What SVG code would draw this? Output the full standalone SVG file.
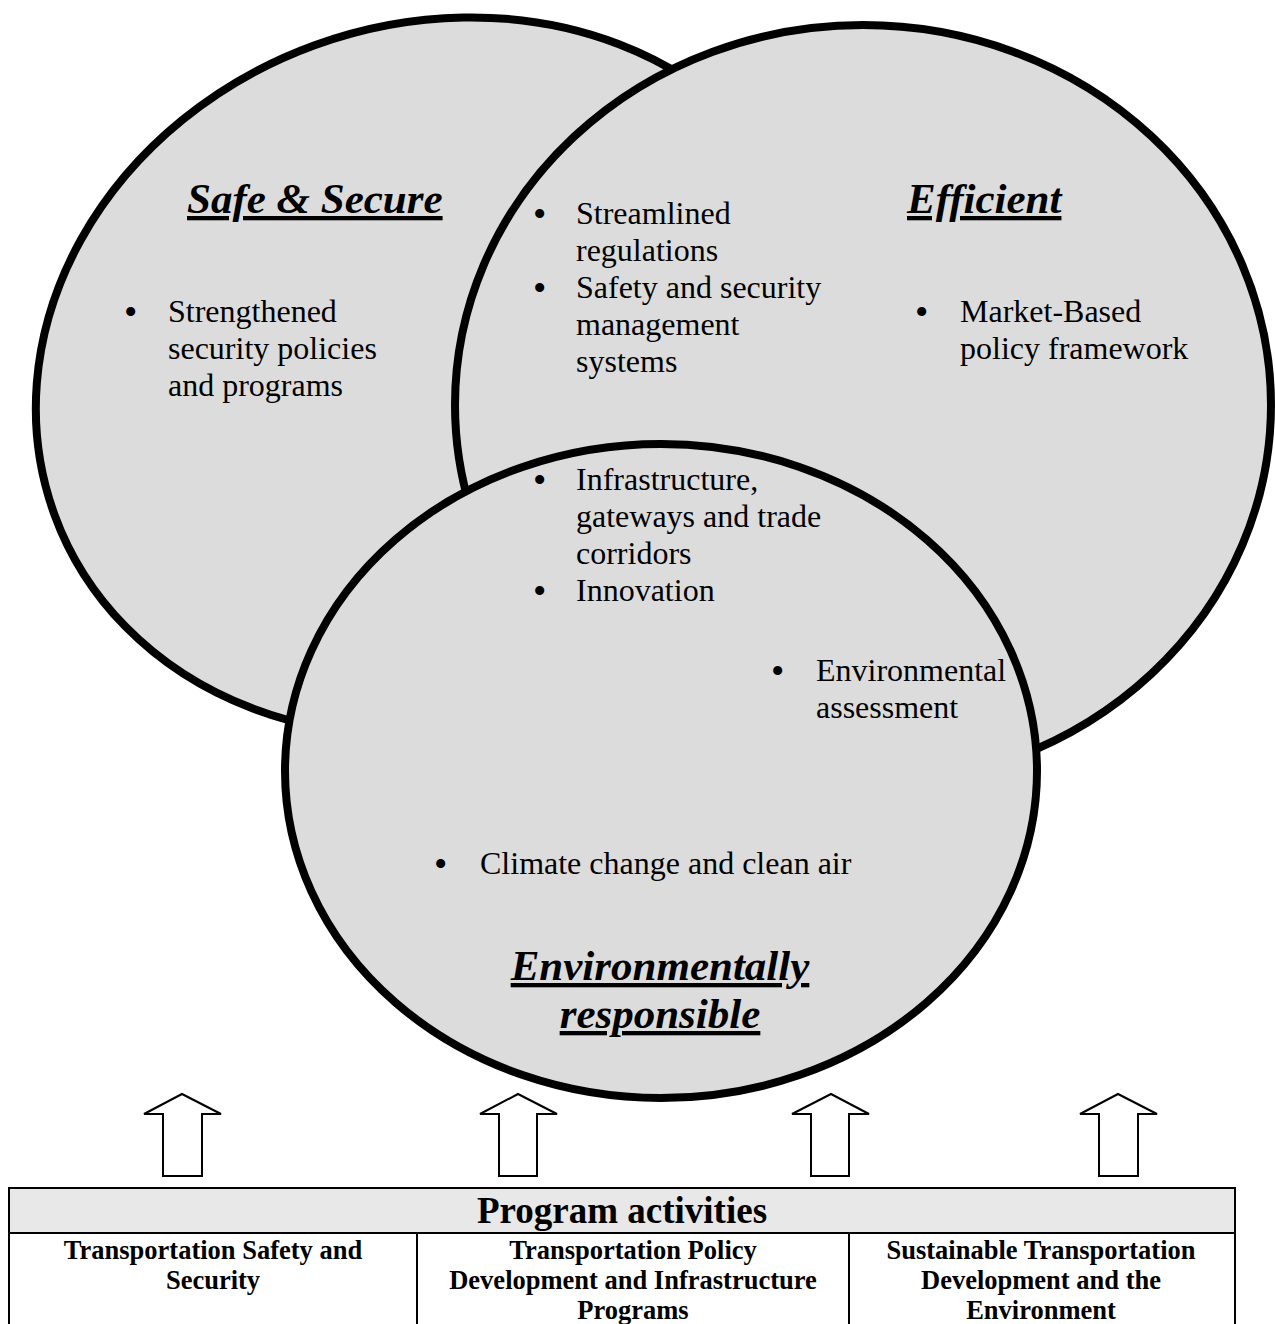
<svg xmlns="http://www.w3.org/2000/svg" width="1275" height="1324" viewBox="0 0 1275 1324">
<style>
.c{fill:#dcdcdc;stroke:#000;stroke-width:8}
.t{font-family:"Liberation Serif","Times New Roman",serif;font-size:32px;fill:#000}
.d{font-family:"Liberation Serif","Times New Roman",serif;font-size:38px;fill:#000}
.h{font-family:"Liberation Serif","Times New Roman",serif;font-size:43px;font-weight:bold;font-style:italic;text-decoration:underline;fill:#000}
.a{fill:#fff;stroke:#000;stroke-width:2;stroke-linejoin:miter}
.b{font-family:"Liberation Serif","Times New Roman",serif;font-weight:bold;fill:#000;text-anchor:middle}
.g{stroke:#000;stroke-width:2}
</style>
<rect width="1275" height="1324" fill="#fff"/>
<g id="safe-secure">
<ellipse class="c" cx="435" cy="376" rx="405" ry="352" transform="rotate(-20 435 376)"/>
</g>
<g id="efficient">
<ellipse class="c" cx="863" cy="405" rx="408" ry="380"/>
</g>
<g id="environmentally-responsible">
<ellipse class="c" cx="661" cy="771" rx="376" ry="327"/>
</g>
<g id="labels-safe">
<text class="h" x="187" y="213">Safe &amp; Secure</text>
<text class="d" x="124" y="325">•</text>
<text class="t" x="168" y="322">Strengthened</text>
<text class="t" x="168" y="359">security policies</text>
<text class="t" x="168" y="396">and programs</text>
</g>
<g id="labels-efficient">
<text class="h" x="907" y="213">Efficient</text>
<text class="d" x="533" y="227">•</text>
<text class="t" x="576" y="224">Streamlined</text>
<text class="t" x="576" y="261">regulations</text>
<text class="d" x="533" y="301">•</text>
<text class="t" x="576" y="298">Safety and security</text>
<text class="t" x="576" y="335">management</text>
<text class="t" x="576" y="372">systems</text>
<text class="d" x="915" y="325">•</text>
<text class="t" x="960" y="322">Market-Based</text>
<text class="t" x="960" y="359">policy framework</text>
</g>
<g id="labels-shared">
<text class="d" x="533" y="493">•</text>
<text class="t" x="576" y="490">Infrastructure,</text>
<text class="t" x="576" y="527">gateways and trade</text>
<text class="t" x="576" y="564">corridors</text>
<text class="d" x="533" y="604">•</text>
<text class="t" x="576" y="601">Innovation</text>
<text class="d" x="771" y="684">•</text>
<text class="t" x="816" y="681">Environmental</text>
<text class="t" x="816" y="718">assessment</text>
</g>
<g id="labels-environment">
<text class="d" x="434" y="877">•</text>
<text class="t" x="480" y="874">Climate change and clean air</text>
<text class="h" x="660" y="980" text-anchor="middle">Environmentally</text>
<text class="h" x="660" y="1028" text-anchor="middle">responsible</text>
</g>
<g id="connectors">
<polygon class="a" points="182,1094 221,1114 202,1114 202,1176 163,1176 163,1114 144,1114"/>
<polygon class="a" points="518,1094 557,1114 537,1114 537,1176 499,1176 499,1114 480,1114"/>
<polygon class="a" points="831,1094 869,1114 849,1114 849,1176 811,1176 811,1114 792,1114"/>
<polygon class="a" points="1118,1094 1157,1114 1138,1114 1138,1176 1099,1176 1099,1114 1080,1114"/>
</g>
<g id="program-activities">
<rect x="9" y="1188" width="1226" height="45" fill="#e8e8e8" class="g"/>
<rect x="9" y="1233" width="1226" height="100" fill="#fff" class="g"/>
<line class="g" x1="417" y1="1233" x2="417" y2="1330"/>
<line class="g" x1="849" y1="1233" x2="849" y2="1330"/>
<text class="b" x="622" y="1223" font-size="37">Program activities</text>
<text class="b" x="213" y="1259" font-size="26.5">Transportation Safety and</text>
<text class="b" x="213" y="1289" font-size="26.5">Security</text>
<text class="b" x="633" y="1259" font-size="26.5">Transportation Policy</text>
<text class="b" x="633" y="1289" font-size="26.5">Development and Infrastructure</text>
<text class="b" x="633" y="1319" font-size="26.5">Programs</text>
<text class="b" x="1041" y="1259" font-size="26.5">Sustainable Transportation</text>
<text class="b" x="1041" y="1289" font-size="26.5">Development and the</text>
<text class="b" x="1041" y="1319" font-size="26.5">Environment</text>
</g>
</svg>
